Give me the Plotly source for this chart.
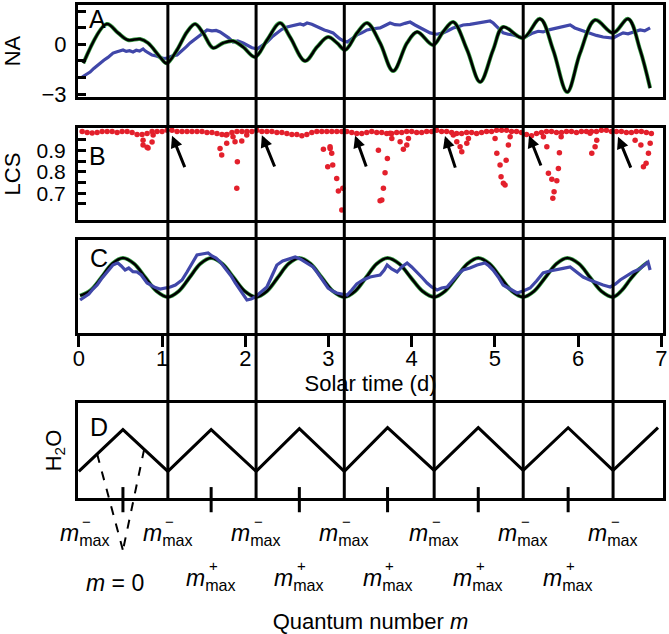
import numpy as np
import plotly.graph_objects as go

W, H = 669, 634
FONT = "Liberation Sans, Arial, sans-serif"

# ---------------- data ----------------
# day boundaries (vertical lines through all panels), solar time in days
day_bounds = [1.07, 2.13, 3.19, 4.27, 5.34, 6.42]
x_ticks = [0, 1, 2, 3, 4, 5, 6, 7]

# Panel A: NA (observed = blue, model = black/green)
na_ticks = [-3, 0, 2]
na_minor_ticks = [-2, -1, 1]
na_model_t = [0.054, 0.335, 0.471, 0.591, 0.736, 0.832, 0.976, 1.056, 1.180, 1.300, 1.397, 1.493,
              1.613, 1.733, 1.853, 1.974, 2.118, 2.262, 2.418, 2.538, 2.719, 2.863, 2.995, 3.103,
              3.200, 3.344, 3.464, 3.620, 3.777, 3.944, 4.065, 4.257, 4.377, 4.498, 4.666, 4.822,
              4.978, 5.099, 5.339, 5.543, 5.700, 5.868, 6.024, 6.204, 6.421, 6.601, 6.745, 6.865]
na_model_v = [-1.14, 1.24, 0.70, 0.27, 0.33, 0.09, -0.76, -1.14, -0.33, 0.76, 1.24, 0.70,
              -0.21, 0.09, 0.21, -0.15, -0.76, 0.27, 1.30, 0.45, -1.00, -0.15, 0.45, 0.09,
              -0.33, 0.70, 1.30, 0.09, -1.61, 0.09, 0.76, -0.03, 0.76, 1.36, -0.33, -2.27,
              -0.33, 1.06, 0.39, 1.55, -0.33, -2.88, -0.52, 1.48, 0.70, 1.55, -0.33, -2.64]
na_obs_t = [0.04, 0.09, 0.135, 0.18, 0.255, 0.30, 0.35, 0.411, 0.45, 0.49, 0.531, 0.57, 0.61, 0.651,
            0.69, 0.73, 0.772, 0.80, 0.84, 0.88, 0.93, 0.976, 1.02, 1.06, 1.12, 1.18, 1.24, 1.29,
            1.337, 1.40, 1.457, 1.50, 1.541, 1.60, 1.65, 1.697, 1.75, 1.80, 1.853, 1.91, 1.974, 2.03,
            2.08, 2.142, 2.20, 2.262, 2.32, 2.382, 2.44, 2.502, 2.58, 2.659, 2.70, 2.743, 2.80, 2.85,
            2.899, 2.95, 3.00, 3.055, 3.10, 3.139, 3.18, 3.224, 3.28, 3.344, 3.40, 3.464, 3.54, 3.620,
            3.68, 3.740, 3.80, 3.861, 3.92, 3.981, 4.04, 4.101, 4.16, 4.221, 4.30, 4.377, 4.44, 4.498,
            4.56, 4.618, 4.70, 4.786, 4.86, 4.942, 4.98, 5.027, 5.06, 5.099, 5.16, 5.219, 5.28, 5.339,
            5.40, 5.459, 5.52, 5.579, 5.66, 5.748, 5.82, 5.904, 5.96, 6.024, 6.08, 6.144, 6.22, 6.300,
            6.36, 6.421, 6.48, 6.541, 6.60, 6.66, 6.745, 6.80, 6.865]
na_obs_v = [-1.97, -1.80, -1.67, -1.45, -1.12, -0.95, -0.78, -0.52, -0.45, -0.38, -0.33, -0.42, -0.38, -0.45,
            -0.35, -0.40, -0.27, -0.40, -0.52, -0.64, -0.70, -0.76, -0.85, -0.82, -0.70, -0.64, -0.40, -0.15,
            0.09, 0.35, 0.58, 0.75, 0.88, 0.82, 0.85, 0.76, 0.60, 0.40, 0.15, 0.22, 0.09, -0.05,
            -0.20, -0.27, -0.05, 0.15, 0.45, 0.70, 0.92, 1.06, 1.15, 1.24, 1.18, 1.30, 1.22, 1.10,
            1.00, 0.88, 0.80, 0.70, 0.50, 0.33, 0.22, 0.15, 0.35, 0.58, 0.70, 0.88, 0.95, 1.00,
            1.15, 1.30, 1.20, 1.18, 1.28, 1.36, 1.18, 1.00, 0.85, 0.70, 0.62, 0.70, 0.85, 1.00,
            1.08, 1.18, 1.22, 1.30, 1.35, 1.42, 1.30, 1.06, 0.85, 0.70, 0.62, 0.58, 0.48, 0.39,
            0.55, 0.70, 0.80, 0.76, 0.90, 1.00, 1.10, 1.18, 1.00, 0.88, 0.80, 0.70, 0.55, 0.45,
            0.42, 0.39, 0.55, 0.70, 0.65, 0.75, 0.88, 0.82, 1.00]

# Panel B: LCS (red dots)
lcs_ticks = [0.7, 0.8, 0.9]
lcs_minor_ticks = [0.65, 0.75, 0.85, 0.95]
lcs_base_t = [0.04, 0.10, 0.16, 0.22, 0.28, 0.34, 0.40, 0.46, 0.52, 0.58, 0.64, 0.70, 0.76, 0.82, 0.88, 0.94, 1.00,
              1.06, 1.12, 1.18, 1.24, 1.30, 1.36, 1.42, 1.48, 1.54, 1.60, 1.66, 1.72, 1.78, 1.84, 1.90, 1.96,
              2.02, 2.08, 2.14, 2.20, 2.26, 2.32, 2.38, 2.44, 2.50, 2.56, 2.62, 2.68, 2.74, 2.80, 2.86, 2.92, 2.98,
              3.04, 3.10, 3.16, 3.22, 3.28, 3.34, 3.40, 3.46, 3.52, 3.58, 3.64, 3.70, 3.76, 3.82, 3.88, 3.94, 4.00,
              4.06, 4.12, 4.18, 4.24, 4.30, 4.36, 4.42, 4.48, 4.54, 4.60, 4.66, 4.72, 4.78, 4.84, 4.90, 4.96, 5.02,
              5.08, 5.14, 5.20, 5.26, 5.32, 5.38, 5.44, 5.50, 5.56, 5.62, 5.68, 5.74, 5.80, 5.86, 5.92, 5.98, 6.04,
              6.10, 6.16, 6.22, 6.28, 6.34, 6.40, 6.46, 6.52, 6.58, 6.64, 6.70, 6.76, 6.82, 6.88]
lcs_base_v = [0.99, 0.985, 0.982, 0.985, 0.99, 0.99, 0.99, 0.985, 0.99, 0.99, 0.985, 0.975, 0.975, 0.98, 0.99, 0.99, 0.99,
              0.995, 0.995, 0.99, 0.99, 0.99, 0.99, 0.99, 0.99, 0.985, 0.985, 0.98, 0.975, 0.975, 0.985, 0.99, 0.99,
              0.99, 0.99, 0.995, 0.99, 0.99, 0.99, 0.985, 0.985, 0.98, 0.975, 0.975, 0.97, 0.975, 0.985, 0.99, 0.99, 0.99,
              0.99, 0.99, 0.99, 0.99, 0.985, 0.98, 0.98, 0.985, 0.99, 0.985, 0.985, 0.98, 0.98, 0.985, 0.985, 0.99, 0.99,
              0.985, 0.985, 0.99, 0.99, 0.995, 0.99, 0.99, 0.985, 0.98, 0.98, 0.985, 0.985, 0.98, 0.985, 0.99, 0.99, 0.995,
              0.995, 0.995, 0.99, 0.99, 0.985, 0.975, 0.97, 0.98, 0.985, 0.99, 0.99, 0.985, 0.985, 0.99, 0.99, 0.985, 0.99,
              0.99, 0.99, 0.99, 0.995, 0.995, 0.99, 0.99, 0.99, 0.985, 0.985, 0.99, 0.99, 0.985, 0.98]
lcs_dip_t = [0.772, 0.820, 0.880, 0.772, 0.832, 0.893,
             1.697, 1.717, 1.777, 1.770, 1.905, 1.898, 1.877, 1.958, 2.018, 1.853,
             2.939, 3.019, 2.991, 3.051, 3.099, 3.119, 3.039, 3.160, 3.172, 3.020,
             3.600, 3.708, 3.680, 3.660, 3.641, 3.620, 3.761, 3.861, 3.900, 3.941, 3.961, 3.740,
             4.542, 4.582, 4.602, 4.662, 4.682, 4.500,
             5.002, 5.023, 5.062, 5.074, 5.102, 5.122, 5.135, 5.162, 5.183,
             5.624, 5.643, 5.684, 5.744, 5.711, 5.696, 5.763, 5.775, 5.796, 5.583,
             6.164, 6.204, 6.224, 6.144,
             6.685, 6.754, 6.785, 6.817, 6.845, 6.866]
lcs_dip_v = [0.949, 0.916, 0.940, 0.926, 0.912, 0.973,
             0.910, 0.879, 0.934, 0.973, 0.847, 0.723, 0.941, 0.945, 0.973, 0.965,
             0.906, 0.918, 0.824, 0.832, 0.769, 0.710, 0.887, 0.621, 0.723, 0.910,
             0.902, 0.863, 0.796, 0.723, 0.668, 0.664, 0.957, 0.941, 0.906, 0.926, 0.957, 0.981,
             0.941, 0.918, 0.894, 0.934, 0.957, 0.973,
             0.957, 0.887, 0.832, 0.777, 0.746, 0.738, 0.855, 0.926, 0.965,
             0.918, 0.793, 0.765, 0.758, 0.707, 0.676, 0.816, 0.890, 0.965, 0.965,
             0.887, 0.918, 0.949, 0.981,
             0.949, 0.926, 0.824, 0.840, 0.887, 0.934]
arrow_head_t = [1.12, 2.20, 3.32, 4.40, 5.41, 6.48]
arrow_head_v = [0.970, 0.972, 0.970, 0.968, 0.970, 0.965]
arrow_tail_t = [1.28, 2.36, 3.46, 4.53, 5.56, 6.64]
arrow_tail_v = [0.815, 0.818, 0.818, 0.813, 0.823, 0.813]

# Panel C (observed = blue, model = black/green)
c_model_t = [0.015, 0.14, 0.27, 0.40, 0.53, 0.665, 0.80, 0.935, 1.07, 1.20, 1.33, 1.46, 1.59,
             1.725, 1.86, 1.995, 2.13, 2.26, 2.39, 2.52, 2.65, 2.785, 2.92, 3.055, 3.19,
             3.32, 3.45, 3.58, 3.71, 3.85, 3.99, 4.13, 4.27, 4.40, 4.535, 4.67, 4.80,
             4.935, 5.07, 5.205, 5.34, 5.47, 5.605, 5.74, 5.87, 6.01, 6.145, 6.28, 6.42,
             6.525, 6.63, 6.735, 6.84]
c_model_v = [-0.88, -0.62, 0.02, 0.71, 1.00, 0.71, 0.02, -0.66, -0.95, -0.66, 0.02, 0.71, 1.00,
             0.71, 0.02, -0.66, -0.95, -0.66, 0.02, 0.71, 1.00, 0.71, 0.02, -0.66, -0.95,
             -0.66, 0.02, 0.71, 1.00, 0.71, 0.02, -0.66, -0.95, -0.66, 0.02, 0.71, 1.00,
             0.71, 0.02, -0.66, -0.95, -0.66, 0.02, 0.71, 1.00, 0.71, 0.02, -0.66, -0.95,
             -0.62, -0.05, 0.45, 0.80]
c_obs_t = [0.015, 0.06, 0.12, 0.17, 0.22, 0.27, 0.32, 0.37, 0.41, 0.45, 0.47, 0.51, 0.556, 0.60, 0.65,
           0.70, 0.75, 0.82, 0.87, 0.92, 0.977, 1.03, 1.10, 1.16, 1.24, 1.30, 1.36, 1.42, 1.48, 1.553,
           1.60, 1.65, 1.70, 1.74, 1.78, 1.83, 1.88, 1.93, 1.98, 2.02, 2.07, 2.12, 2.19, 2.26, 2.32,
           2.38, 2.45, 2.52, 2.60, 2.66, 2.72, 2.815, 2.87, 2.93, 2.995, 3.05, 3.10, 3.16, 3.224, 3.28,
           3.34, 3.416, 3.50, 3.56, 3.62, 3.67, 3.705, 3.76, 3.825, 3.88, 3.945, 4.00, 4.077, 4.13, 4.185,
           4.24, 4.305, 4.36, 4.425, 4.50, 4.56, 4.618, 4.70, 4.786, 4.88, 4.93, 4.978, 5.04, 5.099, 5.16,
           5.22, 5.267, 5.34, 5.423, 5.50, 5.579, 5.66, 5.748, 5.82, 5.904, 5.98, 6.06, 6.14, 6.228, 6.30,
           6.385, 6.45, 6.505, 6.58, 6.66, 6.74, 6.80, 6.84, 6.865]
c_obs_v = [-1.10, -0.95, -0.80, -0.55, -0.35, -0.05, 0.20, 0.45, 0.65, 0.72, 0.75, 0.60, 0.40, 0.50, 0.32,
           0.30, 0.15, -0.25, -0.38, -0.48, -0.55, -0.52, -0.45, -0.35, -0.10, 0.30, 0.75, 1.15, 1.20, 1.25,
           1.10, 1.00, 0.80, 0.60, 0.40, 0.10, -0.25, -0.55, -0.90, -1.10, -1.05, -0.95, -0.70, -0.45, 0.10,
           0.65, 0.85, 0.95, 1.05, 0.95, 0.80, 0.55, 0.25, -0.10, -0.50, -0.65, -0.75, -0.80, -0.85, -0.60,
           -0.30, -0.10, 0.05, 0.10, 0.15, 0.40, 0.65, 0.45, 0.30, 0.55, 0.75, 0.55, 0.25, 0.00, -0.25,
           -0.45, -0.60, -0.50, -0.45, -0.10, 0.20, 0.40, 0.50, 0.65, 0.75, 0.60, 0.40, 0.05, -0.35, -0.50,
           -0.65, -0.75, -0.65, -0.50, -0.15, 0.25, 0.35, 0.40, 0.48, 0.55, 0.30, 0.05, -0.10, -0.25, -0.35,
           -0.45, -0.30, -0.10, 0.10, 0.30, 0.45, 0.65, 0.80, 0.40]

# Panel D: H2O triangle wave vs quantum number m
h2o_t = [0.0, 0.53, 1.07, 1.59, 2.13, 2.65, 3.19, 3.71, 4.27, 4.80, 5.34, 5.88, 6.42, 6.96]
h2o_v = [0.28, 0.72, 0.28, 0.72, 0.28, 0.73, 0.28, 0.74, 0.29, 0.74, 0.29, 0.74, 0.29, 0.74]
m_plus_t = [0.53, 1.59, 2.65, 3.71, 4.80, 5.88]          # m = 0 then m+max positions
m_minus_t = [0.0, 1.07, 2.13, 3.19, 4.27, 5.34, 6.42]     # m-max positions
m_zero_band = [0.22, 0.785]                               # ends of dashed V on H2O curve

# ---------------- figure ----------------
BLUE = "#4047a9"
GREEN = "#3aa047"
RED = "#e3202c"

fig = go.Figure()

# A
fig.add_trace(go.Scatter(x=na_obs_t, y=na_obs_v, mode="lines", line=dict(color=BLUE, width=3.2),
                         xaxis="x", yaxis="y", hoverinfo="skip"))
fig.add_trace(go.Scatter(x=na_model_t, y=na_model_v, mode="lines",
                         line=dict(color=GREEN, width=4, shape="spline", smoothing=1.0),
                         xaxis="x", yaxis="y", hoverinfo="skip"))
fig.add_trace(go.Scatter(x=na_model_t, y=na_model_v, mode="lines",
                         line=dict(color="black", width=2.6, shape="spline", smoothing=1.0),
                         xaxis="x", yaxis="y", hoverinfo="skip"))
# B
fig.add_trace(go.Scatter(x=lcs_base_t, y=lcs_base_v, mode="markers",
                         marker=dict(color=RED, size=5.5), xaxis="x2", yaxis="y2", hoverinfo="skip"))
fig.add_trace(go.Scatter(x=lcs_dip_t, y=lcs_dip_v, mode="markers",
                         marker=dict(color=RED, size=5.5), xaxis="x2", yaxis="y2", hoverinfo="skip"))
# C
fig.add_trace(go.Scatter(x=c_model_t, y=c_model_v, mode="lines",
                         line=dict(color=GREEN, width=4, shape="spline", smoothing=1.0),
                         xaxis="x3", yaxis="y3", hoverinfo="skip"))
fig.add_trace(go.Scatter(x=c_model_t, y=c_model_v, mode="lines",
                         line=dict(color="black", width=2.6, shape="spline", smoothing=1.0),
                         xaxis="x3", yaxis="y3", hoverinfo="skip"))
fig.add_trace(go.Scatter(x=c_obs_t, y=c_obs_v, mode="lines", line=dict(color=BLUE, width=3.2),
                         xaxis="x3", yaxis="y3", hoverinfo="skip"))
# D
fig.add_trace(go.Scatter(x=h2o_t, y=h2o_v, mode="lines", line=dict(color="black", width=3),
                         xaxis="x4", yaxis="y4", hoverinfo="skip"))

XDOM = [78 / W, 663 / W]
def ydom(top, bottom):
    return [1 - bottom / H, 1 - top / H]

base_x = dict(range=[-0.01, 7.02], domain=XDOM, showline=True, linewidth=3, linecolor="black",
              mirror=True, showgrid=False, zeroline=False, fixedrange=True, automargin=False)
base_y = dict(showline=True, linewidth=3, linecolor="black", mirror=True, showgrid=False,
              zeroline=False, fixedrange=True, automargin=False)
tfont = dict(family=FONT, size=22, color="black")
bfont = dict(family=FONT, size=21, color="black")

fig.update_layout(
    width=W, height=H, margin=dict(l=0, r=0, t=0, b=0, autoexpand=False),
    paper_bgcolor="white", plot_bgcolor="white", showlegend=False,
    font=dict(family=FONT, color="black", size=22),
    xaxis=dict(base_x, anchor="y", showticklabels=False, ticks=""),
    yaxis=dict(base_y, anchor="x", domain=ydom(5, 97), range=[-3.18, 2.39],
               tickvals=na_ticks, ticktext=["\u22123" if v < 0 else str(v) for v in na_ticks],
               ticks="inside", ticklen=8, tickwidth=3, tickcolor="black", tickfont=tfont,
               ticklabelstandoff=4,
               minor=dict(tickvals=na_minor_ticks, ticks="inside", ticklen=8, tickwidth=3,
                          tickcolor="black", showgrid=False),
               title=dict(text="NA", font=tfont, standoff=22)),
    xaxis2=dict(base_x, anchor="y2", showticklabels=False, ticks=""),
    yaxis2=dict(base_y, anchor="x2", domain=ydom(128, 220), range=[0.574, 1.006],
                tickvals=lcs_ticks, ticktext=[f"{v:.1f}" for v in lcs_ticks],
                ticks="inside", ticklen=8, tickwidth=3, tickcolor="black", tickfont=bfont,
                ticklabelstandoff=5,
                minor=dict(tickvals=lcs_minor_ticks, ticks="inside", ticklen=8, tickwidth=3,
                           tickcolor="black", showgrid=False),
                title=dict(text="LCS", font=tfont, standoff=14)),
    xaxis3=dict(base_x, anchor="y3", tickvals=x_ticks, ticktext=[str(v) for v in x_ticks],
                ticks="outside", ticklen=11, tickwidth=3, tickcolor="black", tickfont=tfont,
                ticklabelstandoff=-7,
                title=dict(text="Solar time (d)", font=tfont, standoff=4)),
    yaxis3=dict(base_y, anchor="x3", domain=ydom(240, 333), range=[-2.75, 1.9],
                showticklabels=False, ticks=""),
    xaxis4=dict(base_x, anchor="y4", showticklabels=False, ticks="",
                title=dict(text="Quantum number <i>m</i>", font=tfont, standoff=116)),
    yaxis4=dict(base_y, anchor="x4", domain=ydom(403, 498), range=[0, 1],
                showticklabels=False, ticks="",
                title=dict(text="H<sub>2</sub>O", font=tfont, standoff=8)),
)

shapes = []
# vertical day-boundary lines spanning all panels
for t in day_bounds:
    shapes.append(dict(type="line", xref="x", yref="paper", x0=t, x1=t,
                       y0=1 - 498 / H, y1=1 - 5 / H, line=dict(color="black", width=3), layer="above"))
# tick marks at m+max in panel D (straddling the bottom edge)
for t in m_plus_t:
    shapes.append(dict(type="line", xref="x4", yref="y4 domain", x0=t, x1=t, y0=-0.15, y1=0.115,
                       line=dict(color="black", width=3), layer="above"))
# dashed V from the H2O curve down to m = 0
for t in m_zero_band:
    v = float(np.interp(t, h2o_t, h2o_v))
    shapes.append(dict(type="line", xref="x4", yref="y4 domain", x0=t, x1=m_plus_t[0], y0=v, y1=-0.55,
                       line=dict(color="black", width=2, dash="dash"), layer="above"))
fig.update_layout(shapes=shapes)

ann = []
# panel letters
for letter, (px, py) in zip("ABCD", [(97, 19), (98, 156), (99, 258), (99, 427)]):
    ann.append(dict(text=letter, x=px / W, y=1 - py / H, xref="paper", yref="paper", showarrow=False,
                    xanchor="center", yanchor="middle", font=dict(family=FONT, size=25, color="black")))
# arrows in panel B
for hx, hy, tx, ty in zip(arrow_head_t, arrow_head_v, arrow_tail_t, arrow_tail_v):
    ann.append(dict(x=hx, y=hy, ax=tx, ay=ty, xref="x2", yref="y2", axref="x2", ayref="y2",
                    text="", showarrow=True, arrowhead=2, arrowsize=0.8, arrowwidth=3,
                    arrowcolor="black"))
# m-max labels
mfont = dict(family=FONT, size=23, color="black")
sfont = dict(family=FONT, size=15, color="black")
for i, t in enumerate(m_minus_t):
    ann.append(dict(text="<i>m</i><sub>max</sub>", x=t, y=1 - 534 / H, xref="x4", yref="paper",
                    showarrow=False, xanchor="center", yanchor="middle", font=mfont,
                    xshift=6 if i == 0 else 0))
    ann.append(dict(text="\u2212", x=t, y=1 - 521 / H, xref="x4", yref="paper", showarrow=False,
                    xanchor="center", yanchor="middle", font=sfont, xshift=8 if i == 0 else 2))
for t in m_plus_t[1:]:
    ann.append(dict(text="<i>m</i><sub>max</sub>", x=t, y=1 - 579 / H, xref="x4", yref="paper",
                    showarrow=False, xanchor="center", yanchor="middle", font=mfont))
    ann.append(dict(text="+", x=t, y=1 - 565 / H, xref="x4", yref="paper", showarrow=False,
                    xanchor="center", yanchor="middle", font=sfont, xshift=2))
ann.append(dict(text="<i>m</i> = 0", x=m_plus_t[0], y=1 - 583 / H, xref="x4", yref="paper",
                showarrow=False, xanchor="center", yanchor="middle", font=mfont, xshift=-8))
fig.update_layout(annotations=ann)

fig.write_html("out.html", config={"displayModeBar": False},
               post_script="document.body.style.margin='0';")
